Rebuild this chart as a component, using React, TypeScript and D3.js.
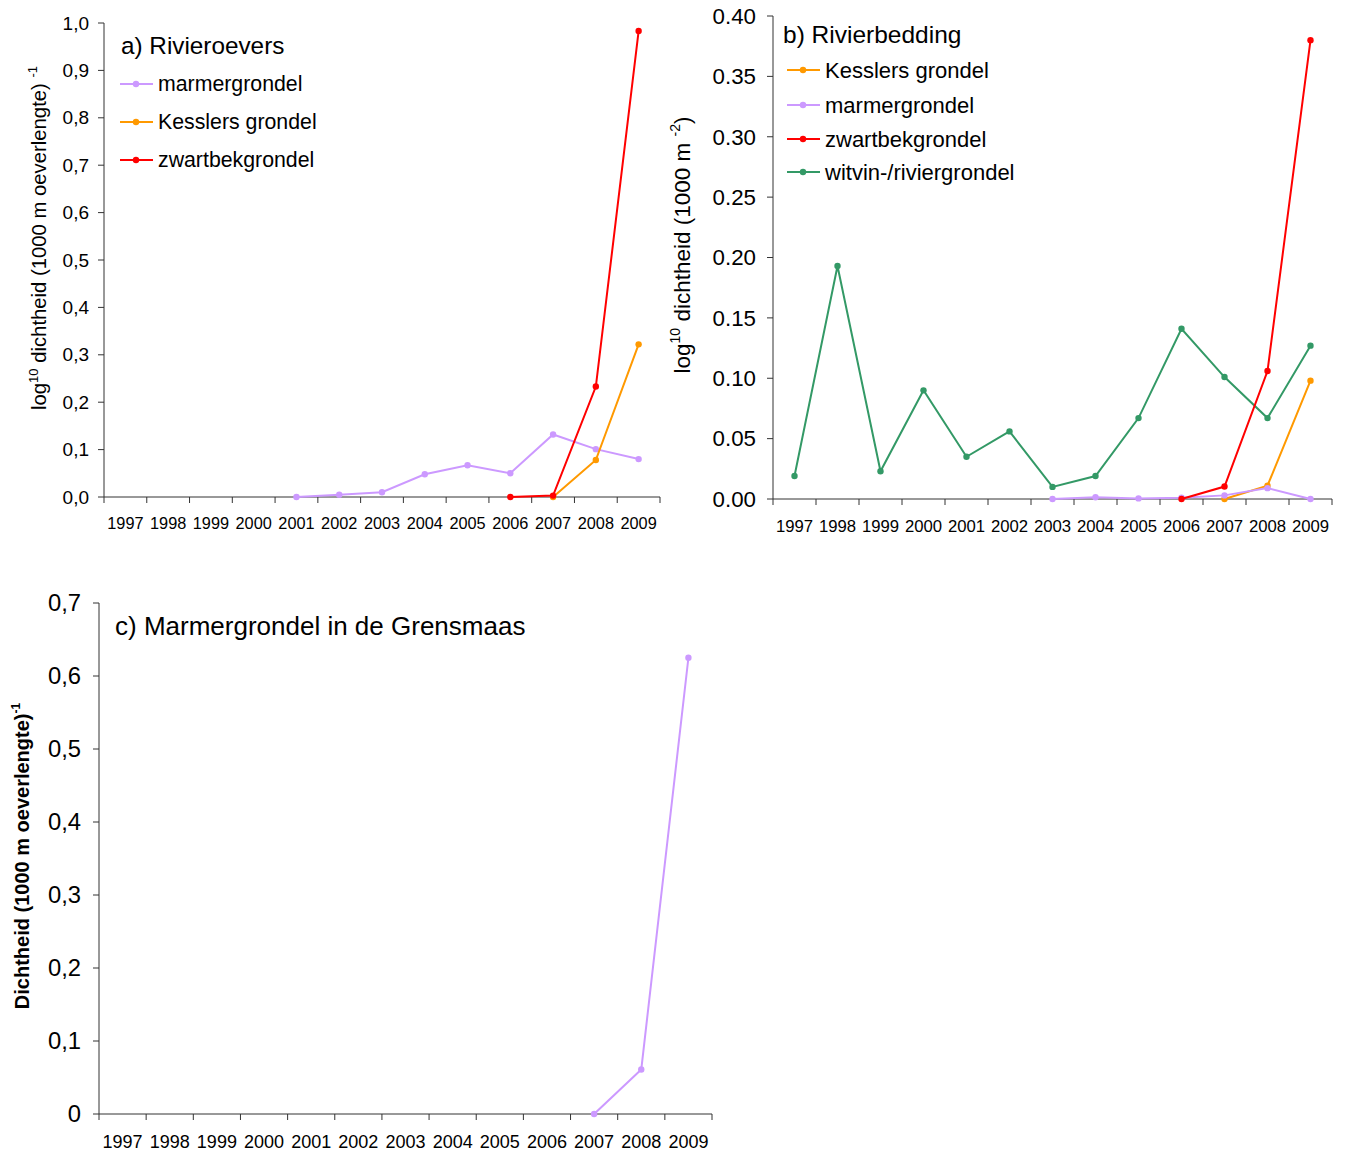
import React from 'react';
import * as d3 from 'd3';

const years = ['1997','1998','1999','2000','2001','2002','2003','2004','2005','2006','2007','2008','2009'];

// Panel a) Rivieroevers
const marmerA = [null, null, null, null, 0, 0.005, 0.010, 0.048, 0.067, 0.050, 0.132, 0.101, 0.080];
const kesslerA = [null, null, null, null, null, null, null, null, null, null, 0, 0.078, 0.322];
const zwartA = [null, null, null, null, null, null, null, null, null, 0, 0.003, 0.233, 0.983];
const yTicksA = [0, 0.1, 0.2, 0.3, 0.4, 0.5, 0.6, 0.7, 0.8, 0.9, 1.0];
const yTickLabelsA = ['0,0','0,1','0,2','0,3','0,4','0,5','0,6','0,7','0,8','0,9','1,0'];

// Panel b) Rivierbedding
const kesslerB = [null, null, null, null, null, null, null, null, null, null, 0, 0.011, 0.098];
const marmerB = [null, null, null, null, null, null, 0, 0.0015, 0.0005, 0.001, 0.003, 0.009, 0];
const zwartB = [null, null, null, null, null, null, null, null, null, 0, 0.0103, 0.106, 0.380];
const witvinB = [0.019, 0.193, 0.023, 0.090, 0.035, 0.056, 0.010, 0.019, 0.067, 0.141, 0.101, 0.067, 0.127];
const yTicksB = [0, 0.05, 0.10, 0.15, 0.20, 0.25, 0.30, 0.35, 0.40];
const yTickLabelsB = ['0.00','0.05','0.10','0.15','0.20','0.25','0.30','0.35','0.40'];

// Panel c) Marmergrondel in de Grensmaas
const marmerC = [null, null, null, null, null, null, null, null, null, null, 0, 0.061, 0.625];
const yTicksC = [0, 0.1, 0.2, 0.3, 0.4, 0.5, 0.6, 0.7];
const yTickLabelsC = ['0','0,1','0,2','0,3','0,4','0,5','0,6','0,7'];

const PURPLE = '#CC99FF';
const ORANGE = '#FF9900';
const RED = '#FF0000';
const GREEN = '#339966';
const FONT = '"Liberation Sans", Arial, sans-serif';
const AXIS = '#333';

type Series = { name: string; values: (number | null)[]; color: string };

type PanelProps = {
  x0: number; x1: number; yTop: number; yBottom: number; yMax: number;
  yTicks: number[]; yTickLabels: string[]; yTickFont: number; yTickX: number;
  xLabelY: number; xLabelFont: number;
  series: Series[]; legend: Series[];
  title: string; titleX: number; titleY: number; titleFont: number;
  legendX: number; legendYs: number[]; legendFont: number;
  yLabel: React.ReactNode;
};

function Panel(p: PanelProps) {
  const x = d3.scaleBand<string>().domain(years).range([p.x0, p.x1]).padding(0);
  const y = d3.scaleLinear().domain([0, p.yMax]).range([p.yBottom, p.yTop]);
  const cx = (i: number) => (x(years[i]) as number) + x.bandwidth() / 2;
  const line = d3.line<number | null>()
    .defined((d) => d != null)
    .x((_, i) => cx(i))
    .y((d) => y(d as number));
  const boundaries = years.map((yr) => x(yr) as number).concat([p.x1]);
  return (
    <g fontFamily={FONT}>
      <line x1={p.x0} x2={p.x0} y1={y(p.yMax)} y2={p.yBottom} stroke={AXIS} strokeWidth={1} />
      <line x1={p.x0} x2={p.x1} y1={p.yBottom} y2={p.yBottom} stroke={AXIS} strokeWidth={1} />
      {p.yTicks.map((t, i) => (
        <g key={'yt' + i}>
          <line x1={p.x0 - 6} x2={p.x0} y1={y(t)} y2={y(t)} stroke={AXIS} />
          <text x={p.yTickX} y={y(t)} dy="0.35em" textAnchor="end" fontSize={p.yTickFont} fill="#000">{p.yTickLabels[i]}</text>
        </g>
      ))}
      {boundaries.map((bx, i) => (
        <line key={'xt' + i} x1={bx} x2={bx} y1={p.yBottom} y2={p.yBottom + 6} stroke={AXIS} />
      ))}
      {years.map((yr, i) => (
        <text key={'xl' + yr} x={cx(i)} y={p.xLabelY} dy="0.35em" textAnchor="middle" fontSize={p.xLabelFont} fill="#000">{yr}</text>
      ))}
      {p.series.map((s) => (
        <g key={s.name}>
          <path d={line(s.values) || ''} fill="none" stroke={s.color} strokeWidth={2} />
          {s.values.map((v, i) => v == null ? null : (
            <circle key={i} cx={cx(i)} cy={y(v)} r={3.2} fill={s.color} />
          ))}
        </g>
      ))}
      <text x={p.titleX} y={p.titleY} dy="0.35em" fontSize={p.titleFont} fill="#000">{p.title}</text>
      {p.legend.map((s, i) => (
        <g key={'lg' + s.name}>
          <line x1={p.legendX} x2={p.legendX + 33} y1={p.legendYs[i]} y2={p.legendYs[i]} stroke={s.color} strokeWidth={2} />
          <circle cx={p.legendX + 16} cy={p.legendYs[i]} r={3.2} fill={s.color} />
          <text x={p.legendX + 38} y={p.legendYs[i]} dy="0.35em" fontSize={p.legendFont} fill="#000">{s.name}</text>
        </g>
      ))}
      {p.yLabel}
    </g>
  );
}

export default function App() {
  const sMarmerA = { name: 'marmergrondel', values: marmerA, color: PURPLE };
  const sKesslerA = { name: 'Kesslers grondel', values: kesslerA, color: ORANGE };
  const sZwartA = { name: 'zwartbekgrondel', values: zwartA, color: RED };

  const sKesslerB = { name: 'Kesslers grondel', values: kesslerB, color: ORANGE };
  const sMarmerB = { name: 'marmergrondel', values: marmerB, color: PURPLE };
  const sZwartB = { name: 'zwartbekgrondel', values: zwartB, color: RED };
  const sWitvinB = { name: 'witvin-/riviergrondel', values: witvinB, color: GREEN };

  const sMarmerC = { name: 'marmergrondel', values: marmerC, color: PURPLE };

  return (
    <svg width={1346} height={1153} style={{ position: 'absolute', left: 0, top: 0, background: '#fff' }}>
      <rect x={0} y={0} width={1346} height={1153} fill="#fff" />
      <Panel
        x0={104} x1={660} yTop={23} yBottom={497} yMax={1.0}
        yTicks={yTicksA} yTickLabels={yTickLabelsA} yTickFont={19} yTickX={89}
        xLabelY={523} xLabelFont={16.3}
        series={[sMarmerA, sKesslerA, sZwartA]} legend={[sMarmerA, sKesslerA, sZwartA]}
        title="a) Rivieroevers" titleX={121} titleY={45} titleFont={24.3}
        legendX={120} legendYs={[84, 122, 160]} legendFont={21.3}
        yLabel={
          <text transform="translate(46,238) rotate(-90)" textAnchor="middle" fontSize={20.3} fill="#000">
            log<tspan fontSize={13} dy={-8}>10</tspan><tspan dy={8}> dichtheid (1000 m oeverlengte) </tspan><tspan fontSize={13} dy={-9}>-1</tspan>
          </text>
        }
      />
      <Panel
        x0={773} x1={1332} yTop={16} yBottom={499} yMax={0.40}
        yTicks={yTicksB} yTickLabels={yTickLabelsB} yTickFont={22.3} yTickX={756}
        xLabelY={526} xLabelFont={16.7}
        series={[sWitvinB, sKesslerB, sMarmerB, sZwartB]} legend={[sKesslerB, sMarmerB, sZwartB, sWitvinB]}
        title="b) Rivierbedding" titleX={783} titleY={34} titleFont={24.5}
        legendX={787} legendYs={[70, 105, 139, 172]} legendFont={22}
        yLabel={
          <text transform="translate(690,245) rotate(-90)" textAnchor="middle" fontSize={22.5} fill="#000">
            log<tspan fontSize={14} dy={-10}>10</tspan><tspan dy={10}> dichtheid (1000 m </tspan><tspan fontSize={14} dy={-10}>-2</tspan><tspan dy={10}>)</tspan>
          </text>
        }
      />
      <Panel
        x0={99} x1={712} yTop={603} yBottom={1114} yMax={0.7}
        yTicks={yTicksC} yTickLabels={yTickLabelsC} yTickFont={23.8} yTickX={81}
        xLabelY={1142} xLabelFont={18}
        series={[sMarmerC]} legend={[]}
        title="c) Marmergrondel in de Grensmaas" titleX={115} titleY={626} titleFont={26}
        legendX={0} legendYs={[]} legendFont={20}
        yLabel={
          <text transform="translate(29,856) rotate(-90)" textAnchor="middle" fontSize={20} fontWeight="bold" fill="#000">
            Dichtheid (1000 m oeverlengte)<tspan fontSize={12} dy={-9}>-1</tspan>
          </text>
        }
      />
    </svg>
  );
}
